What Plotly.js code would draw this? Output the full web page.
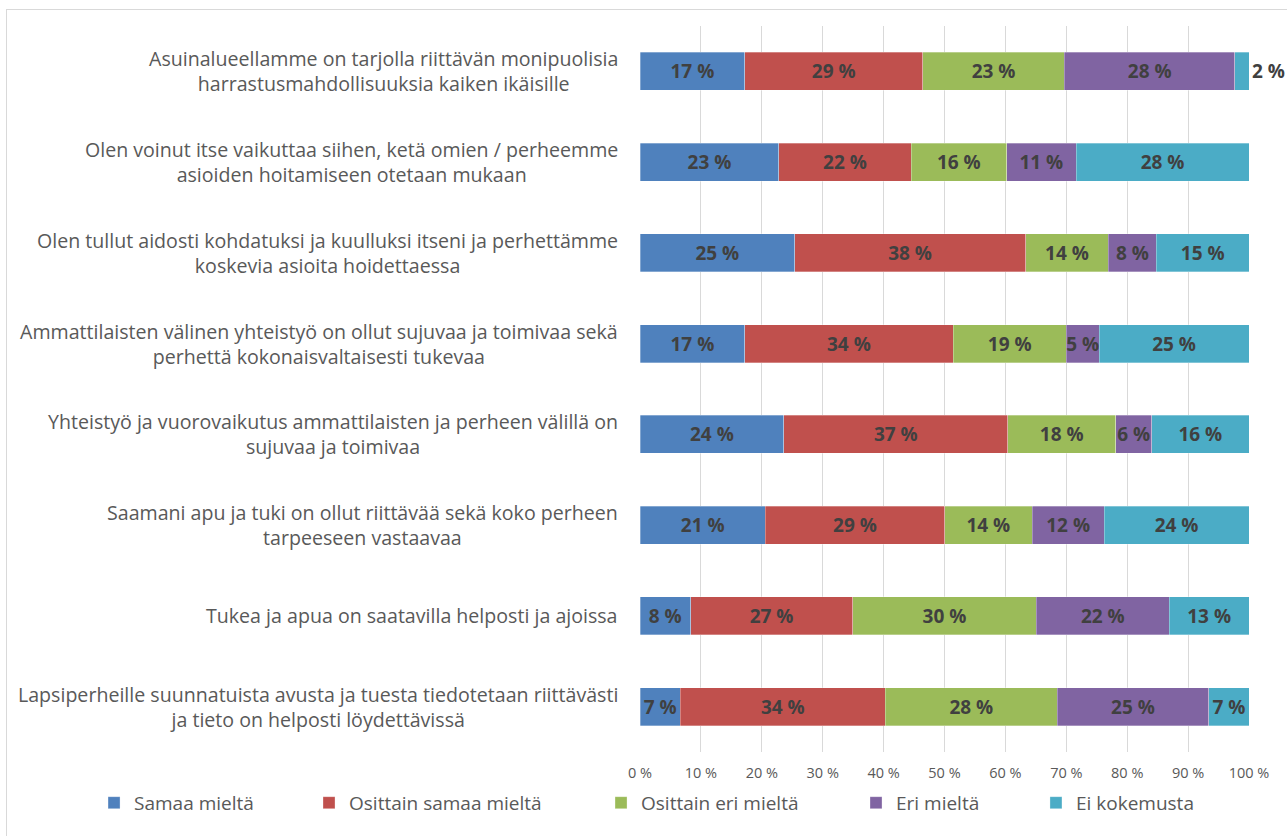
<!DOCTYPE html>
<html>
<head>
<meta charset="utf-8">
<script src="https://cdn.plot.ly/plotly-3.0.1.min.js"></script>
<style>
  html, body { margin: 0; padding: 0; background: #fff; }
  #frame { position: absolute; left: 6px; top: 9px; width: 1300px; height: 900px; border: 1px solid #d9d9d9; }
  #chart { position: absolute; left: 0; top: 0; width: 1287px; height: 836px; }
</style>
</head>
<body>
<div id="frame"></div>
<div id="chart"></div>
<script>
// Statements, top to bottom as in the picture
const statements = [
  'Asuinalueellamme on tarjolla riittävän monipuolisia<br>harrastusmahdollisuuksia kaiken ikäisille',
  'Olen voinut itse vaikuttaa siihen, ketä omien / perheemme<br>asioiden hoitamiseen otetaan mukaan',
  'Olen tullut aidosti kohdatuksi ja kuulluksi itseni ja perhettämme<br>koskevia asioita hoidettaessa',
  'Ammattilaisten välinen yhteistyö on ollut sujuvaa ja toimivaa sekä<br>perhettä kokonaisvaltaisesti tukevaa',
  'Yhteistyö ja vuorovaikutus ammattilaisten ja perheen välillä on<br>sujuvaa ja toimivaa',
  'Saamani apu ja tuki on ollut riittävää sekä koko perheen<br>tarpeeseen vastaavaa',
  'Tukea ja apua on saatavilla helposti ja ajoissa',
  'Lapsiperheille suunnatuista avusta ja tuesta tiedotetaan riittävästi<br>ja tieto on helposti löydettävissä'
];

const seriesNames = ['Samaa mieltä', 'Osittain samaa mieltä', 'Osittain eri mieltä', 'Eri mieltä', 'Ei kokemusta'];

// percentages per statement (same order as statements)
const samaa = [17.2, 22.8, 25.4, 17.2, 23.6, 20.6, 8.3, 6.6];
const osittainSamaa = [29.2, 21.7, 37.9, 34.2, 36.8, 29.4, 26.6, 33.7];
const osittainEri = [23.3, 15.7, 13.6, 18.6, 17.7, 14.4, 30.2, 28.2];
const eri = [28.0, 11.4, 7.9, 5.4, 5.9, 11.8, 21.8, 24.9];
const eiKokemusta = [2.3, 28.4, 15.2, 24.6, 16.0, 23.8, 13.1, 6.6];

const xTicks = [0, 10, 20, 30, 40, 50, 60, 70, 80, 90, 100];

const colors = ['#4f81bd', '#c0504d', '#9bbb59', '#8064a2', '#4bacc6'];
const values = [samaa, osittainSamaa, osittainEri, eri, eiKokemusta];

// one legend per series so each entry can sit where it does in the picture
const legendIds = ['legend', 'legend2', 'legend3', 'legend4', 'legend5'];
const legendX = [-0.8965, -0.5435, -0.064, 0.3547, 0.6502];

const FONT = '"Open Sans", sans-serif';

const keys = statements.map((s, i) => 'q' + i);

const traces = values.map((vals, i) => ({
  type: 'bar',
  orientation: 'h',
  name: seriesNames[i],
  legend: legendIds[i],
  x: vals,
  y: keys,
  marker: { color: colors[i], line: { color: 'rgba(255,255,255,0.6)', width: 0.5 } },
  texttemplate: '%{x:.0f} %',
  textposition: i === values.length - 1 ? 'auto' : 'inside',
  insidetextanchor: 'middle',
  textangle: 0,
  constraintext: 'none',
  cliponaxis: false,
  textfont: { family: FONT, size: 19, color: '#404040', weight: 'bold' },
  outsidetextfont: { family: FONT, size: 19, color: '#404040', weight: 'bold' },
  hoverinfo: 'name+x'
}));

const labels = statements.map((s, i) => ({
  xref: 'paper', yref: 'y',
  x: -0.033, y: keys[i],
  xanchor: 'right', yanchor: 'middle',
  align: 'center',
  text: s,
  showarrow: false,
  font: { family: FONT, size: 19.6, color: '#595959' }
}));

const layout = {
  width: 1287,
  height: 836,
  margin: { l: 640, r: 38, t: 26, b: 84 },
  barmode: 'stack',
  bargap: 0.58,
  paper_bgcolor: 'rgba(0,0,0,0)',
  plot_bgcolor: 'rgba(0,0,0,0)',
  uniformtext: { minsize: 19, mode: 'show' },
  xaxis: {
    range: [0, 100],
    tickvals: xTicks,
    ticktext: xTicks.map(v => v + ' %'),
    showgrid: true,
    gridcolor: '#d9d9d9',
    gridwidth: 1,
    zeroline: false,
    showline: false,
    ticks: '',
    ticklabelstandoff: 10,
    tickfont: { family: FONT, size: 14.5, color: '#595959' },
    fixedrange: true
  },
  yaxis: {
    type: 'category',
    categoryorder: 'array',
    categoryarray: keys,
    autorange: 'reversed',
    showticklabels: false,
    showgrid: false,
    zeroline: false,
    ticks: '',
    fixedrange: true
  },
  annotations: labels,
  showlegend: true
};

legendIds.forEach((id, i) => {
  layout[id] = {
    orientation: 'h',
    x: legendX[i], xanchor: 'left',
    y: -0.07, yanchor: 'middle',
    bgcolor: 'rgba(0,0,0,0)',
    font: { family: FONT, size: 19, color: '#595959' }
  };
});

Plotly.newPlot('chart', traces, layout, { displayModeBar: false, responsive: false });
</script>
</body>
</html>
